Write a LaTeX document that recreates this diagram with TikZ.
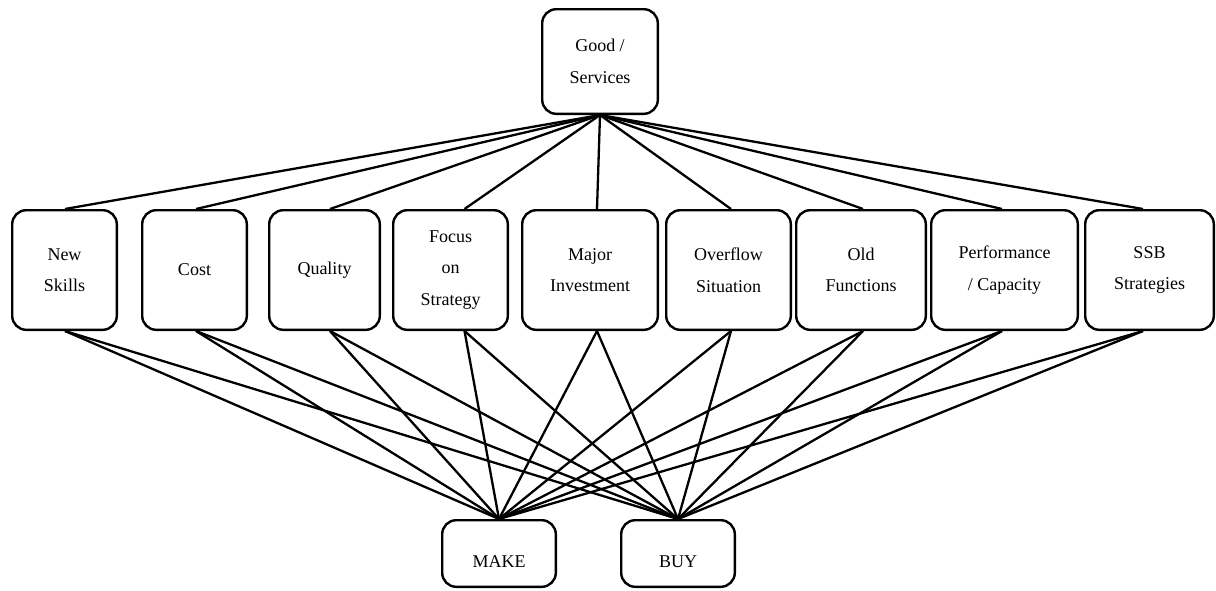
\documentclass[tikz,border=0pt]{standalone}
\usepackage{fontspec}
\setmainfont{Liberation Serif}
\begin{document}
\begin{tikzpicture}[x=1pt,y=-1pt,
  box/.style={draw, line width=2.4pt, rounded corners=14pt, fill=white, align=center,
    inner sep=0pt, font=\fontsize{18}{31.5}\selectfont},
  link/.style={line width=2.3pt}]
\useasboundingbox (0,0) rectangle (1216,590);
\node[box, minimum width=115.6pt, minimum height=104.6pt] (top) at (600,61.5) {Good /\\Services};
\node[box, minimum width=104.6pt, minimum height=119.6pt] (ns) at (64.5,270) {New\\Skills};
\node[box, minimum width=104.6pt, minimum height=119.6pt] (cost) at (194.5,270) {Cost};
\node[box, minimum width=110.6pt, minimum height=119.6pt] (qual) at (324.5,270) {Quality};
\node[box, minimum width=114.6pt, minimum height=119.6pt] (focus) at (450.5,270) {Focus\\on\\Strategy};
\node[box, minimum width=135.6pt, minimum height=119.6pt] (major) at (590,270) {Major\\Investment};
\node[box, minimum width=124.6pt, minimum height=119.6pt] (over) at (728.5,270) {Overflow\\Situation};
\node[box, minimum width=129.6pt, minimum height=119.6pt] (old) at (861,270) {Old\\Functions};
\node[box, minimum width=146.6pt, minimum height=119.6pt] (perf) at (1004.5,270) {Performance\\/ Capacity};
\node[box, minimum width=128.6pt, minimum height=119.6pt] (ssb) at (1149.5,270) {SSB\\Strategies};
\node[box, minimum width=113.6pt, minimum height=66.6pt] (make) at (499,553.5) {\raisebox{-8pt}[\height][\depth]{MAKE}};
\node[box, minimum width=113.6pt, minimum height=66.6pt] (buy) at (678,553.5) {\raisebox{-8pt}[\height][\depth]{BUY}};
\foreach \n/\d in {ns/0.5,cost/1.5,qual/5.5,focus/14,major/7,over/2.5,old/2,perf/-2.5,ssb/-6.5}{
  \draw[link] (top.south) -- ([xshift=\d pt]\n.north);
  \draw[link] ([xshift=\d pt]\n.south) -- (make.north);
  \draw[link] ([xshift=\d pt]\n.south) -- (buy.north);
}
\end{tikzpicture}
\end{document}
